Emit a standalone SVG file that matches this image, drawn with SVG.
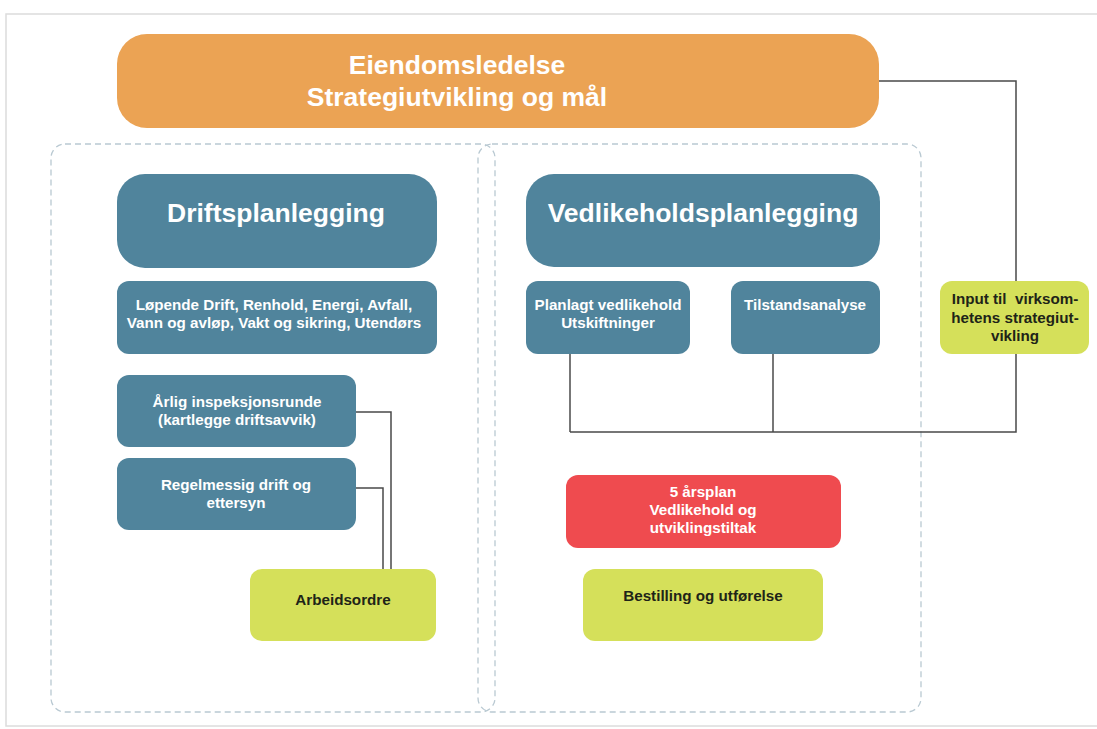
<svg xmlns="http://www.w3.org/2000/svg" width="1097" height="729" viewBox="0 0 1097 729">
<style>
.t{font-family:"Liberation Sans",Arial,sans-serif;font-weight:bold;text-anchor:middle}
.w{fill:#ffffff}
.d{fill:#1e2418}
.big{font-size:26.5px}
.sm{font-size:15.2px}
.blue{fill:#50849c}
.green{fill:#d5e05a}
.red{fill:#ef4b4f}
.orange{fill:#eba354}
.dash{fill:none;stroke:#b9c9d2;stroke-width:1.3;stroke-dasharray:6 4}
.con{fill:none;stroke:#4a4a4a;stroke-width:1.5}
</style>
<rect x="0" y="0" width="1097" height="729" fill="#ffffff"/>
<rect x="6" y="14" width="1100" height="712" fill="none" stroke="#dcdcdc" stroke-width="1.5"/>
<g id="containers">
<rect class="dash" x="51" y="144" width="444" height="568" rx="14"/>
<rect class="dash" x="478" y="144" width="443" height="568" rx="14"/>
</g>
<g id="connectors">
<polyline class="con" points="879,81 1016,81 1016,432 570,432"/>
<line class="con" x1="570" y1="354" x2="570" y2="432"/>
<line class="con" x1="773" y1="354" x2="773" y2="432"/>
<polyline class="con" points="356,412 391,412 391,569"/>
<polyline class="con" points="356,488 383,488 383,569"/>
</g>
<g id="eiendomsledelse">
<rect class="orange" x="117" y="34" width="762" height="94" rx="30"/>
<text class="t w big" x="457" y="74">Eiendomsledelse</text>
<text class="t w big" x="457" y="106">Strategiutvikling og mål</text>
</g>
<g id="driftsplanlegging">
<rect class="blue" x="117" y="174" width="320" height="94" rx="28"/>
<text class="t w big" x="276" y="222">Driftsplanlegging</text>
</g>
<g id="lopende">
<rect class="blue" x="117" y="281" width="320" height="73" rx="12"/>
<text class="t w sm" x="274" y="310">Løpende Drift, Renhold, Energi, Avfall,</text>
<text class="t w sm" x="274" y="328">Vann og avløp, Vakt og sikring, Utendørs</text>
</g>
<g id="arlig">
<rect class="blue" x="117" y="375" width="239" height="72" rx="12"/>
<text class="t w sm" x="237" y="407">Årlig inspeksjonsrunde</text>
<text class="t w sm" x="237" y="425">(kartlegge driftsavvik)</text>
</g>
<g id="regelmessig">
<rect class="blue" x="117" y="458" width="239" height="72" rx="12"/>
<text class="t w sm" x="236" y="490">Regelmessig drift og</text>
<text class="t w sm" x="236" y="508">ettersyn</text>
</g>
<g id="arbeidsordre">
<rect class="green" x="250" y="569" width="186" height="72" rx="12"/>
<text class="t d sm" x="343" y="605">Arbeidsordre</text>
</g>
<g id="vedlikeholdsplanlegging">
<rect class="blue" x="526" y="174" width="354" height="93" rx="28"/>
<text class="t w big" x="703" y="222">Vedlikeholdsplanlegging</text>
</g>
<g id="planlagt">
<rect class="blue" x="526" y="281" width="164" height="73" rx="12"/>
<text class="t w sm" x="608" y="310">Planlagt vedlikehold</text>
<text class="t w sm" x="608" y="328">Utskiftninger</text>
</g>
<g id="tilstandsanalyse">
<rect class="blue" x="731" y="281" width="149" height="73" rx="12"/>
<text class="t w sm" x="805" y="310">Tilstandsanalyse</text>
</g>
<g id="femarsplan">
<rect class="red" x="566" y="475" width="275" height="73" rx="12"/>
<text class="t w sm" x="703" y="497">5 årsplan</text>
<text class="t w sm" x="703" y="515">Vedlikehold og</text>
<text class="t w sm" x="703" y="533">utviklingstiltak</text>
</g>
<g id="bestilling">
<rect class="green" x="583" y="569" width="240" height="72" rx="12"/>
<text class="t d sm" x="703" y="601">Bestilling og utførelse</text>
</g>
<g id="input">
<rect class="green" x="940" y="281" width="149" height="73" rx="12"/>
<text class="t d sm" x="1015" y="304" xml:space="preserve">Input til  virksom-</text>
<text class="t d sm" x="1015" y="323">hetens strategiut-</text>
<text class="t d sm" x="1015" y="341">vikling</text>
</g>
</svg>
